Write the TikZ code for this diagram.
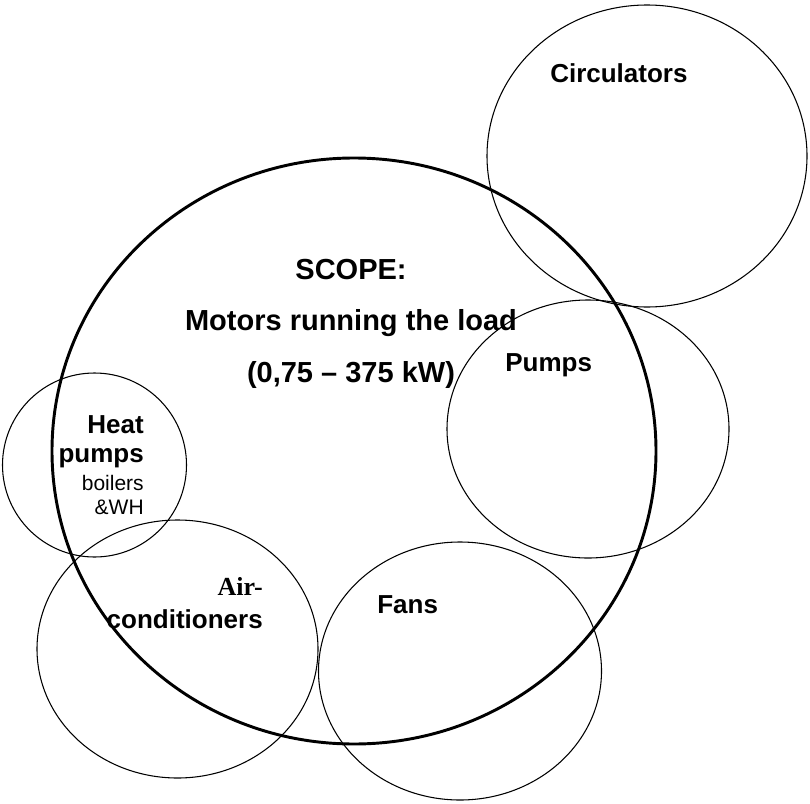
\documentclass[tikz,border=0pt]{standalone}
\usepackage{fontspec}
\setmainfont{Liberation Sans}
\newfontfamily\serifbold{Liberation Serif}
\usetikzlibrary{positioning}

\begin{document}
\begin{tikzpicture}[
  x=0.75pt, y=-0.75pt,
  ring/.style={draw, line width=0.8pt},
  scopering/.style={draw, line width=2.2pt},
  big/.style={font=\fontsize{21.75}{26}\selectfont\bfseries, inner sep=0pt},
  lbl/.style={font=\fontsize{19.5}{23}\selectfont\bfseries, inner sep=0pt},
  note/.style={font=\fontsize{15.75}{19}\selectfont, inner sep=0pt}
]
  \useasboundingbox (0,0) rectangle (810,803);

  % application circles
  \draw[ring] (647,156) ellipse [x radius=160, y radius=151];
  \draw[ring] (588,429) ellipse [x radius=141, y radius=129];
  \draw[ring] (94.5,465) ellipse [x radius=92, y radius=92];
  \draw[ring] (177.5,649) ellipse [x radius=140.5, y radius=129];
  \draw[ring] (460,671) ellipse [x radius=141.5, y radius=129];
  % scope
  \draw[scopering] (354,451) ellipse [x radius=302, y radius=293];

  \node[big, anchor=base] (scope) at (351,279) {SCOPE:};
  \node[big, anchor=base] (motors) at (351,330) {Motors running the load};
  \node[big, anchor=base] (range) at (351,382) {(0,75 -- 375 kW)};

  \node[lbl, anchor=base west] (circ) at (550,82) {Circulators};
  \node[lbl, anchor=base west] (pumps) at (505,371) {Pumps};
  \node[lbl, anchor=base west] (fans) at (377,613) {Fans};

  \node[lbl, anchor=base east] (heat) at (144,433) {Heat};
  \node[lbl, anchor=base east] (heatb) at (144,462) {pumps};
  \node[note, anchor=base east] (boil) at (144,490) {boilers};
  \node[note, anchor=base east] (wh) at (144,514) {\&WH};

  \node[lbl, anchor=base east] (air) at (263,595) {\serifbold Air-};
  \node[lbl, anchor=base east] (cond) at (263,628) {conditioners};
\end{tikzpicture}
\end{document}
